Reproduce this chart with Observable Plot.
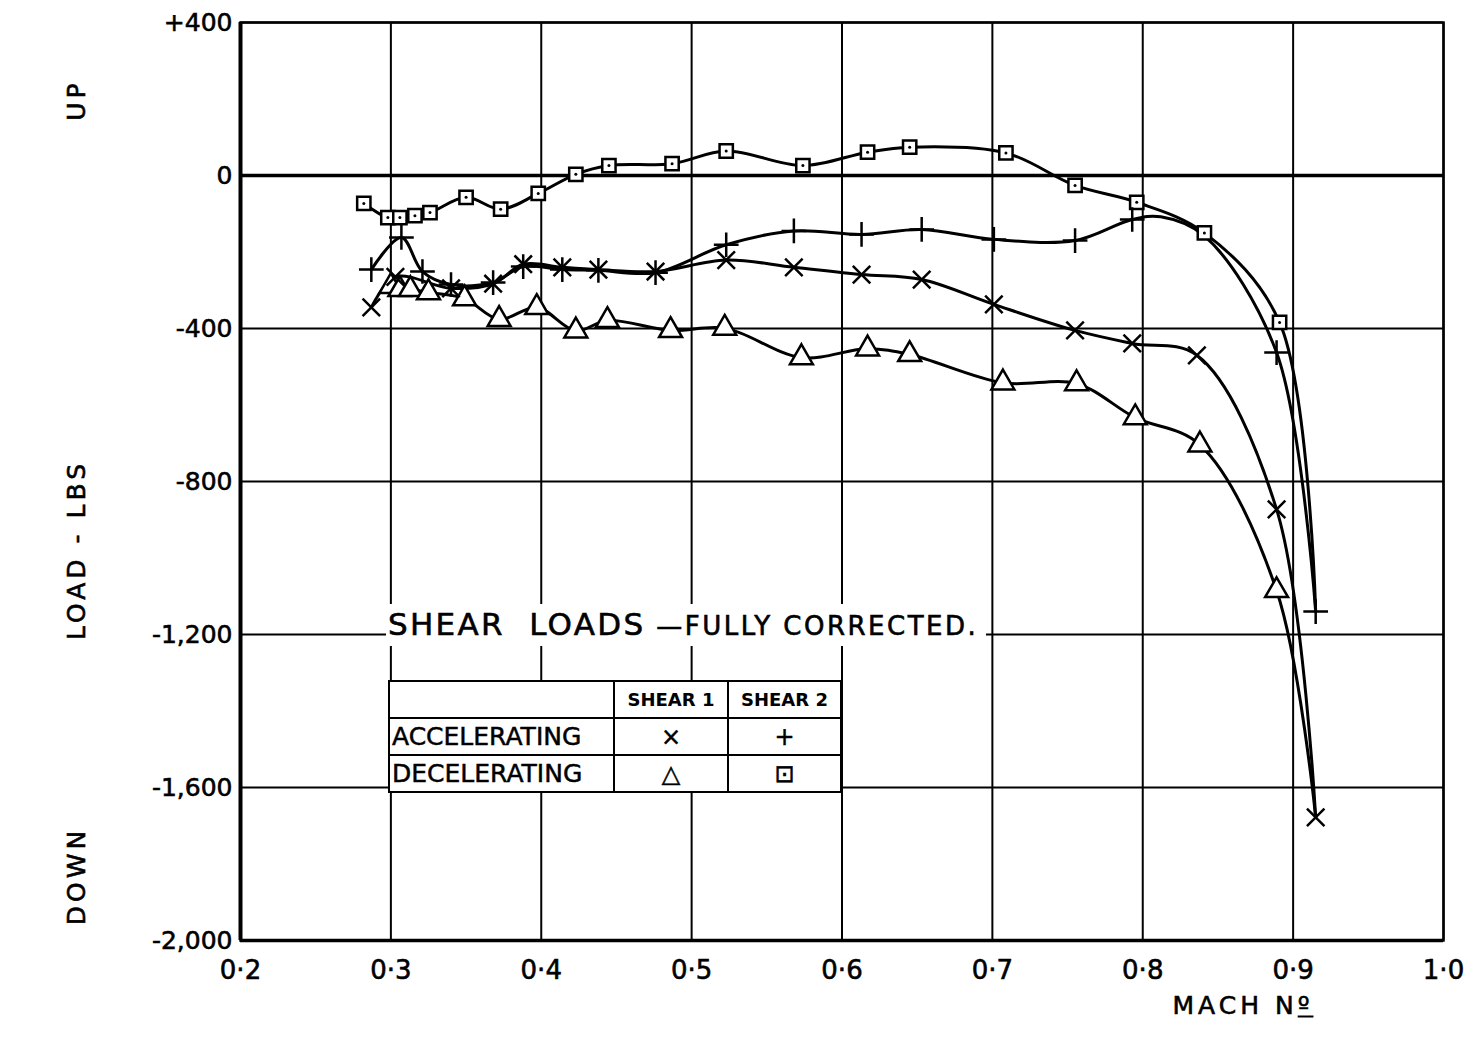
<!DOCTYPE html>
<html>
<head>
<meta charset="utf-8">
<script src="https://cdn.jsdelivr.net/npm/d3@7"></script>
<script src="https://cdn.jsdelivr.net/npm/@observablehq/plot@0.6"></script>
<style>
  html, body { margin: 0; padding: 0; background: #fff; }
  #wrap { position: relative; width: 1470px; height: 1039px; font-family: "DejaVu Sans", sans-serif; color: #000; }
  #wrap svg text { stroke: #000; stroke-width: 0.6px; }
  .lbl { position: absolute; white-space: nowrap; font-size: 25px; letter-spacing: 4px; -webkit-text-stroke: 0.6px #000; }
  .rot { transform: translate(-50%, -50%) rotate(-90deg); }
  #title { position: absolute; left: 386px; top: 604px; background: #fff; padding: 2px 8px 4px 2px; white-space: nowrap; -webkit-text-stroke: 0.6px #000; }
  #title .big { font-size: 31px; letter-spacing: 2.3px; }
  #title .small { font-size: 26px; letter-spacing: 2.5px; }
  #legend { position: absolute; left: 388px; top: 680px; border-collapse: collapse; background: #fff; }
  #legend td { border: 2px solid #000; height: 35px; padding: 0 2px; font-size: 25px; white-space: nowrap; -webkit-text-stroke: 0.5px #000; }
  #legend td.h { font-size: 18px; font-weight: bold; text-align: center; -webkit-text-stroke: 0; }
  #legend td.s { text-align: center; font-size: 24px; }
</style>
</head>
<body>
<div id="wrap"></div>
<script>
// ---- axis ticks and labels ----
const xTicks = [0.2, 0.3, 0.4, 0.5, 0.6, 0.7, 0.8, 0.9, 1.0];
const xTickLabels = ["0·2", "0·3", "0·4", "0·5", "0·6", "0·7", "0·8", "0·9", "1·0"];
const yTicks = [400, 0, -400, -800, -1200, -1600, -2000];
const yTickLabels = ["+400", "0", "-400", "-800", "-1,200", "-1,600", "-2,000"];

// ---- series: Accelerating, Shear 1 (×) ----
const machAccS1 = [0.287, 0.303, 0.340, 0.368, 0.388, 0.414, 0.438, 0.476, 0.523, 0.568, 0.613, 0.653, 0.701, 0.755, 0.793, 0.836, 0.889, 0.915];
const loadAccS1 = [-345, -265, -295, -283, -232, -240, -246, -251, -221, -240, -259, -272, -337, -405, -439, -470, -873, -1678];

// ---- series: Accelerating, Shear 2 (+) ----
const machAccS2 = [0.287, 0.307, 0.321, 0.340, 0.368, 0.388, 0.414, 0.438, 0.476, 0.523, 0.568, 0.613, 0.653, 0.701, 0.755, 0.793, 0.889, 0.915];
const loadAccS2 = [-246, -162, -251, -285, -280, -238, -246, -248, -254, -181, -145, -154, -141, -167, -170, -115, -463, -1140];
// points read off the drawn curve between markers (no marker there): it runs along the square curve
const machAccS2Curve = [0.812, 0.841];
const loadAccS2Curve = [-108, -158];

// ---- series: Decelerating, Shear 1 (triangle) ----
const machDecS1 = [0.300, 0.306, 0.313, 0.325, 0.349, 0.372, 0.397, 0.423, 0.444, 0.486, 0.522, 0.573, 0.617, 0.645, 0.707, 0.756, 0.795, 0.838, 0.889];
const loadDecS1 = [-290, -298, -298, -306, -322, -376, -345, -406, -379, -405, -399, -476, -453, -468, -542, -544, -633, -704, -1085];
// curve continues (no marker) to the common end point
const machDecS1Tail = [0.915];
const loadDecS1Tail = [-1678];

// ---- series: Decelerating, Shear 2 (square) ----
const machDecS2 = [0.282, 0.298, 0.306, 0.316, 0.326, 0.350, 0.373, 0.398, 0.423, 0.445, 0.487, 0.523, 0.574, 0.617, 0.645, 0.709, 0.755, 0.796, 0.841, 0.891];
const loadDecS2 = [-73, -110, -110, -105, -97, -57, -88, -47, 3, 26, 31, 64, 26, 61, 74, 59, -26, -70, -150, -384];
const machDecS2Tail = [0.915];
const loadDecS2Tail = [-1140];

const toRows = (xs, ys) => xs.map((x, i) => ({x, y: ys[i]}));
const accS1 = toRows(machAccS1, loadAccS1);
const accS2 = toRows(machAccS2, loadAccS2);
const decS1 = toRows(machDecS1, loadDecS1);
const decS2 = toRows(machDecS2, loadDecS2);
const accS2Line = accS2.concat(toRows(machAccS2Curve, loadAccS2Curve)).sort((a, b) => a.x - b.x);
const decS1Line = decS1.concat(toRows(machDecS1Tail, loadDecS1Tail));
const decS2Line = decS2.concat(toRows(machDecS2Tail, loadDecS2Tail));

const font = "DejaVu Sans, sans-serif";
const lineOpts = {x: "x", y: "y", stroke: "black", strokeWidth: 3, curve: "catmull-rom"};

const chart = Plot.plot({
  width: 1470,
  height: 1039,
  marginLeft: 240,
  marginRight: 27,
  marginTop: 22,
  marginBottom: 99,
  style: {fontFamily: font, background: "white", color: "black"},
  x: {domain: [0.2, 1.0]},
  y: {domain: [-2000, 400]},
  marks: [
    Plot.ruleX(xTicks, {stroke: "black", strokeWidth: 2}),
    Plot.ruleY(yTicks, {stroke: "black", strokeWidth: 2}),
    Plot.ruleY([0], {stroke: "black", strokeWidth: 3.5}),
    Plot.ruleX([0.2], {stroke: "black", strokeWidth: 4}),
    Plot.ruleY([-2000], {stroke: "black", strokeWidth: 3.5}),
    Plot.frame({stroke: "black", strokeWidth: 2.5}),
    Plot.axisX(xTicks, {tickSize: 0, tickPadding: 20, fontSize: 26, label: null,
      tickFormat: d => xTickLabels[xTicks.indexOf(d)], style: {letterSpacing: "4px"}}),
    Plot.axisY(yTicks, {tickSize: 0, tickPadding: 8, fontSize: 25, label: null,
      tickFormat: d => yTickLabels[yTicks.indexOf(d)], style: {letterSpacing: "6px"}}),
    Plot.line(decS2Line, lineOpts),
    Plot.line(accS2Line, lineOpts),
    Plot.line(accS1, lineOpts),
    Plot.line(decS1Line, lineOpts),
    Plot.dot(decS2, {x: "x", y: "y", symbol: "square", r: 7.5, fill: "white", stroke: "black", strokeWidth: 2.5}),
    Plot.dot(decS2, {x: "x", y: "y", r: 1.5, fill: "black"}),
    Plot.dot(decS1, {x: "x", y: "y", symbol: "triangle", r: 8.5, fill: "white", stroke: "black", strokeWidth: 2.5}),
    Plot.dot(accS2, {x: "x", y: "y", symbol: "plus", r: 8, stroke: "black", strokeWidth: 2.5}),
    Plot.dot(accS1, {x: "x", y: "y", symbol: "times", r: 8, stroke: "black", strokeWidth: 2.5})
  ]
});

const wrap = document.getElementById("wrap");
wrap.appendChild(chart);

function addLabel(html, left, top, cls) {
  const d = document.createElement("div");
  d.className = "lbl " + (cls || "");
  d.innerHTML = html;
  d.style.left = left + "px";
  d.style.top = top + "px";
  wrap.appendChild(d);
  return d;
}
addLabel("UP", 76, 100, "rot");
addLabel("LOAD - LBS", 76, 550, "rot");
addLabel("DOWN", 76, 876, "rot");
const mach = addLabel("MACH N<span style=\"text-decoration:underline\">º</span>", 1243, 1005, "rot");
mach.style.transform = "translate(-50%, -50%)";

const title = document.createElement("div");
title.id = "title";
title.innerHTML = '<span class="big">SHEAR&nbsp; LOADS</span><span class="small"> —FULLY CORRECTED.</span>';
wrap.appendChild(title);

const legend = document.createElement("table");
legend.id = "legend";
legend.innerHTML = `
  <tr><td style="width:219px"></td><td class="h" style="width:108px">SHEAR 1</td><td class="h" style="width:107px">SHEAR 2</td></tr>
  <tr><td>ACCELERATING</td><td class="s">×</td><td class="s">+</td></tr>
  <tr><td>DECELERATING</td><td class="s">△</td><td class="s">⊡</td></tr>`;
wrap.appendChild(legend);
</script>
</body>
</html>
